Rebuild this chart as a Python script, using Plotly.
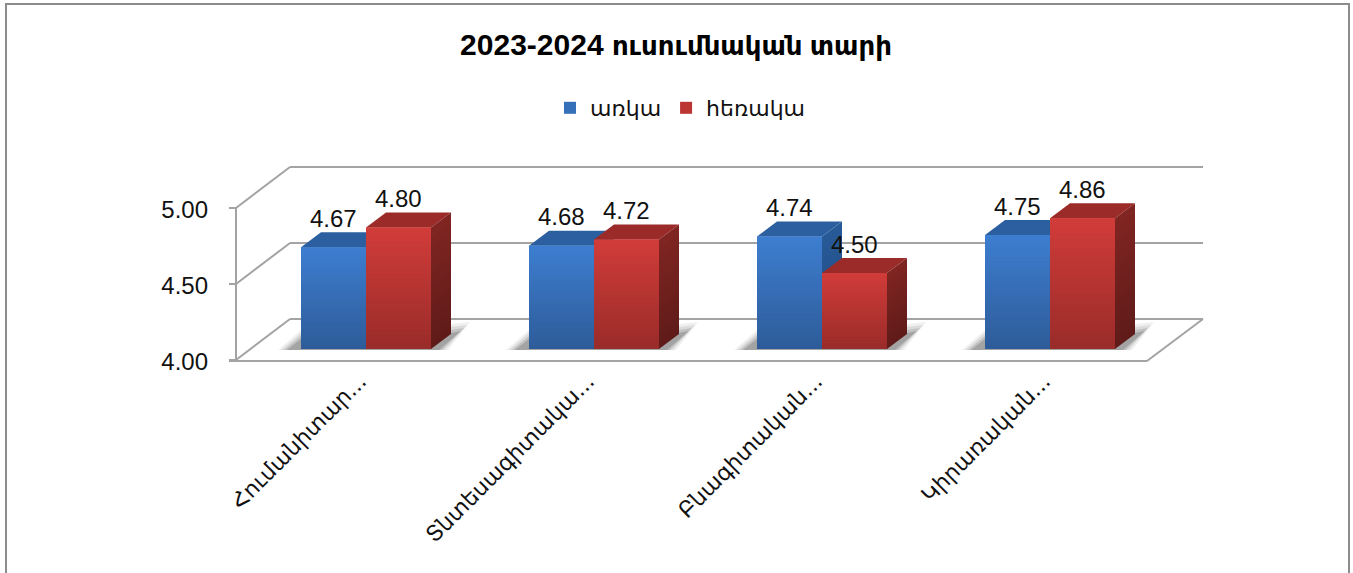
import plotly.graph_objects as go

# ---------- data ----------
title_year = "2023-2024"
title_words = "ուսումնական տարի"
categories = ["Հումանիտար...", "Տնտեսագիտակա...", "Բնագիտական...", "Կիրառական..."]
series_names = ["առկա", "հեռակա"]
in_person = [4.67, 4.68, 4.74, 4.75]
distance = [4.80, 4.72, 4.50, 4.86]
y_ticks = [4.0, 4.5, 5.0]

# ---------- styling ----------
W, H = 1353, 573
L, R, T, B = 209, 1230, 150, 363      # plot area in page pixels
X0_PX, X_UNIT = 366, 228              # pixel of category 0, pixels per category
Y0_PX, Y_UNIT = 349, 152              # pixel of value 4 (bar plane), pixels per unit
BASE = 4.0
HALF = 0.285                          # bar width in category units

BLUE = dict(front=("#3d7dcf", "#2d5b98"), side=("#285a98", "#1f4a80"), top="#2c5f9f", flat="#3570b8")
RED = dict(front=("#d03c39", "#982b29"), side=("#802522", "#5e1b19"), top="#9a2b28", flat="#bb3533")
TEXT = "Liberation Sans, DejaVu Sans, sans-serif"
ARM = "DejaVu Sans, sans-serif"
GRID = "#a3a3a3"


def dx(px):
    return px / X_UNIT


def dy(px):
    return px / Y_UNIT


def px_x(px):
    return dx(px - X0_PX)


def px_y(px):
    return BASE + dy(Y0_PX - px)


def paper_x(px):
    return (px - L) / (R - L)


def paper_y(px):
    return (B - px) / (B - T)


def mix(c1, c2, t):
    a = [int(c1[i:i + 2], 16) for i in (1, 3, 5)]
    b = [int(c2[i:i + 2], 16) for i in (1, 3, 5)]
    return "rgb(%d,%d,%d)" % tuple(round(p + (q - p) * t) for p, q in zip(a, b))


def poly(points, fill, layer="below"):
    path = "M" + "L".join(f"{x:.5f},{y:.5f}" for x, y in points) + "Z"
    return dict(type="path", xref="x", yref="y", path=path, fillcolor=fill, layer=layer,
                line=dict(width=0))


def seg(x1, y1, x2, y2, color=GRID, width=2):
    return dict(type="line", xref="x", yref="y", x0=px_x(x1), y0=px_y(y1), x1=px_x(x2), y1=px_y(y2),
                layer="below", line=dict(color=color, width=width))


shapes = []
# outer frame
shapes.append(dict(type="rect", xref="paper", yref="paper",
                   x0=paper_x(6), x1=paper_x(1349), y0=paper_y(4), y1=paper_y(600),
                   line=dict(color="#8c8c8c", width=2), fillcolor="rgba(0,0,0,0)", layer="below"))

# walls and floor, built from the axis ticks
for v in y_ticks:
    back = 319 - (v - BASE) * Y_UNIT
    front = 360 - (v - BASE) * Y_UNIT
    shapes.append(seg(236, front, 290, back))
    shapes.append(seg(290, back, 1203, back))
    shapes.append(seg(229, front, 236, front))
shapes.append(seg(236, 360 - Y_UNIT, 236, 361))
shapes.append(seg(229, 361, 1147, 361))
shapes.append(seg(1147, 361, 1203, 319))

# ground shadows
for i in range(len(categories)):
    x_l, x_r = i - HALF, i + HALF
    for grow, alpha in ((0, 0.24), (3, 0.18), (6, 0.12), (9, 0.08)):
        shapes.append(poly([
            (x_l - dx(14 + grow), px_y(350)),
            (x_l, px_y(339 - grow)),
            (x_r + dx(20), px_y(333 - grow)),
            (x_r + dx(30 + grow), px_y(331 - grow)),
            (x_r + dx(8 + grow), px_y(350)),
        ], f"rgba(70,70,70,{alpha})"))

# sides and tops of the boxes behind the bars, and gradient strips in front
N = 26
for values, style, left_edge in ((in_person, BLUE, -HALF), (distance, RED, 0.0)):
    for i, v in enumerate(values):
        x_l = i + left_edge
        x_r = x_l + HALF
        ox, oy = dx(20), dy(15)
        # top face
        shapes.append(poly([(x_l, v), (x_r, v), (x_r + ox, v + oy), (x_l + ox, v + oy)], style["top"]))
        for k in range(N):
            t0, t1 = k / N, (k + 1) / N
            y_hi = v - (v - BASE) * t0
            y_lo = max(v - (v - BASE) * t1 - dy(1.5), BASE)
            # side face
            shapes.append(poly([(x_r, y_hi), (x_r, y_lo), (x_r + ox, y_lo + oy), (x_r + ox, y_hi + oy)],
                               mix(*style["side"], t0)))
            # front face
            shapes.append(poly([(x_l, y_hi), (x_r, y_hi), (x_r, y_lo), (x_l, y_lo)],
                               mix(*style["front"], t0), layer="above"))

# value labels
annotations = []
for values, left_edge in ((in_person, -HALF), (distance, 0.0)):
    for i, v in enumerate(values):
        annotations.append(dict(x=i + left_edge + HALF / 2, y=v, xref="x", yref="y",
                                text=f"{v:.2f}", showarrow=False, yshift=29,
                                xanchor="center", yanchor="middle",
                                font=dict(family=TEXT, size=24, color="#111111")))

fig = go.Figure()
positions = list(range(len(categories)))
for name, values, style in ((series_names[0], in_person, BLUE), (series_names[1], distance, RED)):
    fig.add_trace(go.Bar(name=name, x=positions, y=[v - BASE for v in values], base=BASE,
                         marker=dict(color=style["flat"], line=dict(width=0))))

fig.update_layout(
    width=W, height=H,
    margin=dict(l=L, r=W - R, t=T, b=H - B, pad=0),
    paper_bgcolor="white", plot_bgcolor="rgba(0,0,0,0)",
    barmode="group", bargap=0.43, bargroupgap=0,
    title=dict(text=f"<b>{title_year} <span style='font-size:26px'>{title_words}</span></b>",
               x=676 / W, xanchor="center", xref="container",
               y=1 - 44 / H, yanchor="middle", font=dict(family=TEXT, size=30, color="#000000")),
    legend=dict(orientation="h", x=paper_x(550), xanchor="left", y=paper_y(108), yanchor="middle",
                font=dict(family=ARM, size=22, color="#111111"), traceorder="normal",
                bgcolor="rgba(0,0,0,0)", itemclick=False, itemdoubleclick=False),
    xaxis=dict(range=[px_x(L), px_x(R)], tickmode="array", tickvals=positions, ticktext=categories,
               tickangle=-45, ticks="", showgrid=False, zeroline=False, showline=False, automargin=False,
               ticklabelshift=-6, tickfont=dict(family=ARM, size=22, color="#111111")),
    yaxis=dict(range=[px_y(B), px_y(T)], tickmode="array",
               tickvals=[v - dy(13) for v in y_ticks], ticktext=[f"{v:.2f}" for v in y_ticks],
               ticks="", showgrid=False, zeroline=False, showline=False, automargin=False,
               tickfont=dict(family=TEXT, size=24, color="#111111")),
    shapes=shapes, annotations=annotations,
)

fig.write_html("out.html", config=dict(displayModeBar=False),
               post_script="document.body.style.margin='0';document.documentElement.style.overflow='hidden';")
